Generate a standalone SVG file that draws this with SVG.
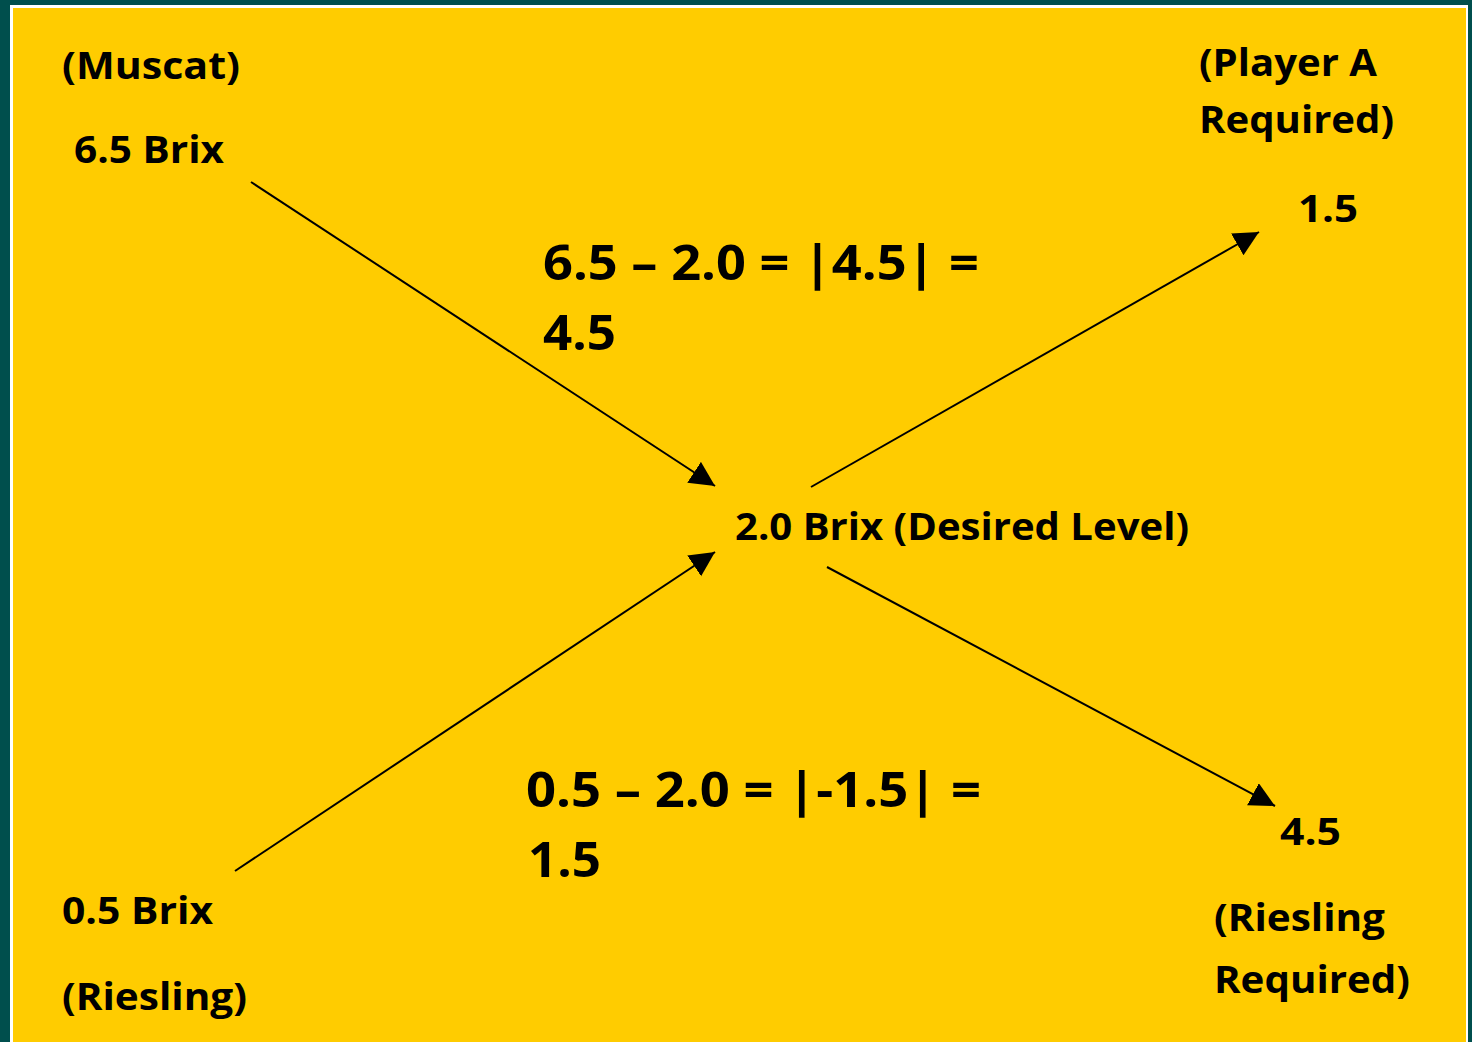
<svg xmlns="http://www.w3.org/2000/svg" width="1472" height="1042" viewBox="0 0 1472 1042">
  <style>
    text { font-family: "Open Sans", "Liberation Sans", sans-serif; font-weight: bold; fill: #000; }
    .s { font-size: 38px; }
    .l { font-size: 49px; }
    .conn line { stroke: #000; stroke-width: 2; marker-end: url(#arrow); }
  </style>
  <defs>
    <marker id="arrow" markerUnits="userSpaceOnUse" markerWidth="26" markerHeight="26" refX="25" refY="12.5" orient="auto">
      <path d="M0,0 L25,12.5 L0,25 Z" fill="#000"/>
    </marker>
  </defs>
  <rect x="0" y="0" width="1472" height="1042" fill="#004F4D"/>
  <rect x="10" y="5" width="1458" height="1040" fill="#FFFFFF"/>
  <rect x="13" y="8" width="1453" height="1040" fill="#FFCC00"/>

  <g id="conn" class="conn">
    <line x1="251" y1="182" x2="715" y2="486"/>
    <line x1="235" y1="871" x2="715" y2="552"/>
    <line x1="811" y1="487" x2="1259" y2="232"/>
    <line x1="827" y1="567" x2="1275" y2="806"/>
  </g>

  <g id="muscat">
    <text class="s" x="62" y="79" textLength="178" lengthAdjust="spacingAndGlyphs">(Muscat)</text>
    <text class="s" x="74" y="163" textLength="150" lengthAdjust="spacingAndGlyphs">6.5 Brix</text>
  </g>
  <g id="riesling">
    <text class="s" x="62" y="924" textLength="151" lengthAdjust="spacingAndGlyphs">0.5 Brix</text>
    <text class="s" x="62" y="1010" textLength="185" lengthAdjust="spacingAndGlyphs">(Riesling)</text>
  </g>
  <g id="desired">
    <text class="s" x="735" y="540" textLength="454" lengthAdjust="spacingAndGlyphs">2.0 Brix (Desired Level)</text>
  </g>
  <g id="playerA">
    <text class="s" x="1199" y="76" textLength="178" lengthAdjust="spacingAndGlyphs">(Player A</text>
    <text class="s" x="1199" y="133" textLength="195" lengthAdjust="spacingAndGlyphs">Required)</text>
    <text class="s" x="1298" y="222" textLength="60" lengthAdjust="spacingAndGlyphs">1.5</text>
  </g>
  <g id="rieslingReq">
    <text class="s" x="1280" y="845" textLength="61" lengthAdjust="spacingAndGlyphs">4.5</text>
    <text class="s" x="1214" y="931" textLength="171" lengthAdjust="spacingAndGlyphs">(Riesling</text>
    <text class="s" x="1214" y="993" textLength="196" lengthAdjust="spacingAndGlyphs">Required)</text>
  </g>
  <g id="eq1">
    <text class="l" x="543" y="280" textLength="436" lengthAdjust="spacingAndGlyphs">6.5 – 2.0 = |4.5| =</text>
    <text class="l" x="543" y="350" textLength="73" lengthAdjust="spacingAndGlyphs">4.5</text>
  </g>
  <g id="eq2">
    <text class="l" x="526" y="807" textLength="455" lengthAdjust="spacingAndGlyphs">0.5 – 2.0 = |-1.5| =</text>
    <text class="l" x="528" y="877" textLength="73" lengthAdjust="spacingAndGlyphs">1.5</text>
  </g>
</svg>
